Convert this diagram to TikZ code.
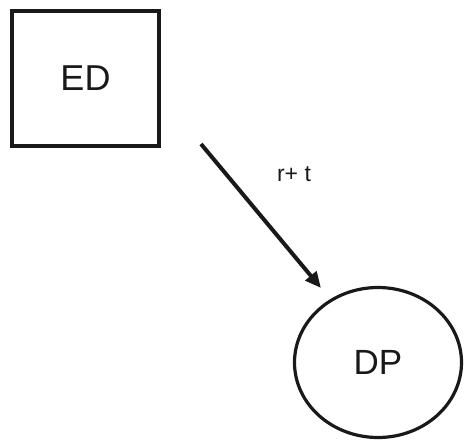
\documentclass[tikz,border=0pt]{standalone}
\usepackage{fontspec}
\setmainfont{Liberation Sans}
\usetikzlibrary{arrows.meta,shapes.geometric}
\begin{document}
\begin{tikzpicture}[x=1pt,y=-1pt,
  box/.style={draw=black!90,line width=3.8pt,rectangle,minimum width=147pt,minimum height=135pt,inner sep=0pt,font=\fontsize{36}{40}\selectfont,text=black!90},
  oval/.style={draw=black!90,line width=3.2pt,ellipse,minimum width=167pt,minimum height=150pt,inner sep=0pt,font=\fontsize{35}{40}\selectfont,text=black!90},
  conn/.style={draw=black!90,line width=4pt,-{Triangle[length=16pt,width=14pt]}},
  lbl/.style={font=\fontsize{23}{26}\selectfont,text=black!90}]
\useasboundingbox (0,0) rectangle (464,440);
\node[box] (ED) at (85.5,78.5) {ED};
\node[oval] (DP) at (378,362.5) {DP};
\coordinate (a) at (201,144);
\coordinate (b) at (321,288);
\draw[conn] (a) -- (b);
\node[lbl] (lab) at (294,174) {r+ t};
\end{tikzpicture}
\end{document}
